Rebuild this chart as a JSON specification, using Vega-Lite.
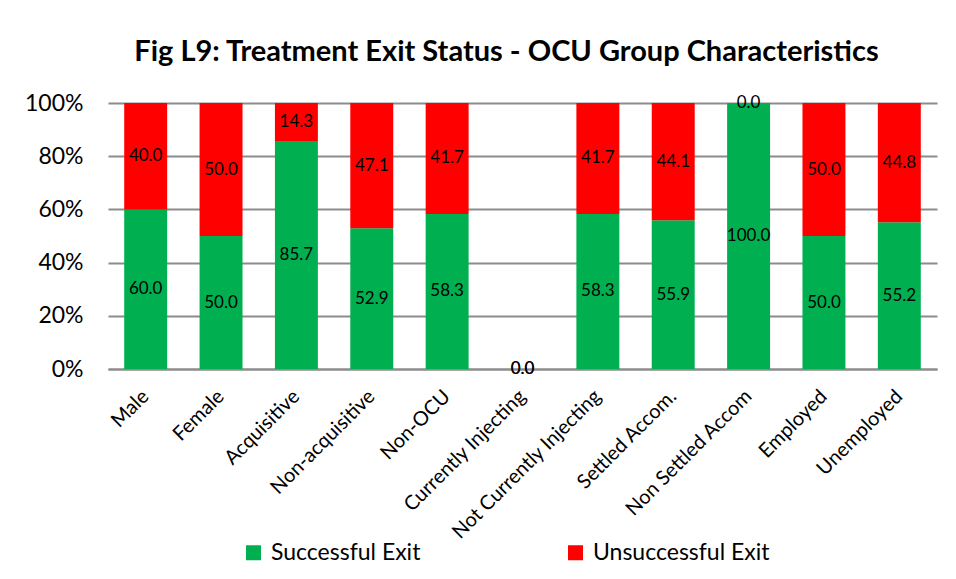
{
  "$schema": "https://vega.github.io/schema/vega-lite/v6.json",
  "autosize": {"type": "none"},
  "padding": {"left": 108, "top": 103, "right": 19, "bottom": 210},
  "width": 829,
  "height": 266,
  "background": "white",
  "config": {
    "font": "Lato",
    "view": {"stroke": null},
    "axis": {"labelFont": "Lato", "labelColor": "black"}
  },
  "title": {
    "text": "Fig L9: Treatment Exit Status - OCU Group Characteristics",
    "font": "Lato",
    "fontSize": 29,
    "fontWeight": "bold",
    "color": "black",
    "anchor": "middle",
    "dx": -16,
    "offset": 25
  },
  "data": {
    "values": [
      {"group": "Male", "status": "Successful Exit", "value": 60.0},
      {"group": "Male", "status": "Unsuccessful Exit", "value": 40.0},
      {"group": "Female", "status": "Successful Exit", "value": 50.0},
      {"group": "Female", "status": "Unsuccessful Exit", "value": 50.0},
      {"group": "Acquisitive", "status": "Successful Exit", "value": 85.7},
      {"group": "Acquisitive", "status": "Unsuccessful Exit", "value": 14.3},
      {"group": "Non-acquisitive", "status": "Successful Exit", "value": 52.9},
      {"group": "Non-acquisitive", "status": "Unsuccessful Exit", "value": 47.1},
      {"group": "Non-OCU", "status": "Successful Exit", "value": 58.3},
      {"group": "Non-OCU", "status": "Unsuccessful Exit", "value": 41.7},
      {"group": "Currently Injecting", "status": "Successful Exit", "value": 0.0},
      {"group": "Currently Injecting", "status": "Unsuccessful Exit", "value": 0.0},
      {"group": "Not Currently Injecting", "status": "Successful Exit", "value": 58.3},
      {"group": "Not Currently Injecting", "status": "Unsuccessful Exit", "value": 41.7},
      {"group": "Settled Accom.", "status": "Successful Exit", "value": 55.9},
      {"group": "Settled Accom.", "status": "Unsuccessful Exit", "value": 44.1},
      {"group": "Non Settled Accom", "status": "Successful Exit", "value": 100.0},
      {"group": "Non Settled Accom", "status": "Unsuccessful Exit", "value": 0.0},
      {"group": "Employed", "status": "Successful Exit", "value": 50.0},
      {"group": "Employed", "status": "Unsuccessful Exit", "value": 50.0},
      {"group": "Unemployed", "status": "Successful Exit", "value": 55.2},
      {"group": "Unemployed", "status": "Unsuccessful Exit", "value": 44.8}
    ]
  },
  "layer": [
    {
      "mark": {"type": "bar"},
      "encoding": {
        "x": {
          "field": "group",
          "type": "nominal",
          "sort": null,
          "scale": {"paddingInner": 0.43, "paddingOuter": 0.215},
          "axis": {
            "title": null,
            "labelAngle": -45,
            "labelAlign": "right",
            "labelBaseline": "middle",
            "labelFontSize": 20,
            "labelPadding": 24,
            "labelLimit": 400,
            "ticks": false,
            "domain": true,
            "domainColor": "#8c8c8c",
            "domainWidth": 2
          }
        },
        "y": {
          "field": "value",
          "type": "quantitative",
          "stack": "zero",
          "scale": {"domain": [0, 100], "nice": false},
          "axis": {
            "title": null,
            "values": [0, 20, 40, 60, 80, 100],
            "labelExpr": "datum.value + '%'",
            "labelFontSize": 23,
            "labelPadding": 25,
            "ticks": false,
            "domain": false,
            "grid": true,
            "gridColor": "#8c8c8c",
            "gridWidth": 2
          }
        },
        "order": {"field": "status", "sort": "ascending"},
        "color": {
          "field": "status",
          "type": "nominal",
          "scale": {"domain": ["Successful Exit", "Unsuccessful Exit"], "range": ["#00B050", "#FF0000"]},
          "legend": {
            "title": null,
            "orient": "none",
            "legendX": 134,
            "legendY": 438,
            "direction": "horizontal",
            "symbolType": "square",
            "symbolSize": 225,
            "symbolStrokeWidth": 0,
            "labelFontSize": 23,
            "labelFont": "Lato",
            "labelColor": "black",
            "labelOffset": 6,
            "labelLimit": 400,
            "columnPadding": 143
          }
        }
      }
    },
    {
      "transform": [
        {"stack": "value", "groupby": ["group"], "as": ["v0", "v1"], "sort": [{"field": "status", "order": "ascending"}]},
        {"calculate": "(datum.v0 + datum.v1) / 2", "as": "mid"}
      ],
      "mark": {"type": "text", "fontSize": 17, "color": "black", "font": "Lato"},
      "encoding": {
        "x": {"field": "group", "type": "nominal", "sort": null},
        "y": {"field": "mid", "type": "quantitative"},
        "text": {"field": "value", "type": "quantitative", "format": ".1f"}
      }
    }
  ]
}
